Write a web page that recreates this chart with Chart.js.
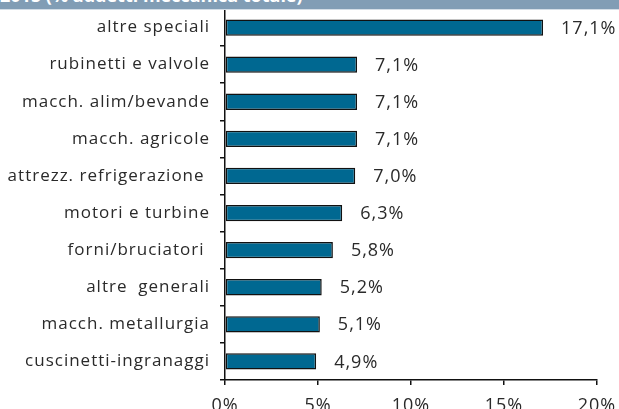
<!DOCTYPE html>
<html>
<head>
<meta charset="utf-8">
<script src="https://cdn.jsdelivr.net/npm/chart.js@4/dist/chart.umd.min.js"></script>
<style>
	html, body { margin: 0; padding: 0; background: #fff; }
	#wrap { position: relative; width: 619px; height: 409px; overflow: hidden; }
	#head {
		position: absolute; left: 0; top: 0; width: 619px; height: 9px;
		background: #819db5; overflow: hidden; border-bottom: 1px solid #d3dde6;
	}
	#head span {
		position: absolute; left: 0; top: -15px; white-space: nowrap;
		font: bold 18px "Open Sans", sans-serif; line-height: 20px; color: #fff;
	}
	canvas { position: absolute; left: 0; top: 0; }
</style>
</head>
<body>
<div id="wrap">
	<canvas id="myChart" width="619" height="409"></canvas>
	<div id="head"><span>2015 (% addetti meccanica totale)</span></div>
</div>
<script>
// settori (dall'alto in basso)
var categories = [
	"altre speciali",
	"rubinetti e valvole",
	"macch. alim/bevande",
	"macch. agricole",
	"attrezz. refrigerazione ",
	"motori e turbine",
	"forni/bruciatori ",
	"altre  generali",
	"macch. metallurgia",
	"cuscinetti-ingranaggi"
];
// % addetti meccanica totale
var values = [17.1, 7.1, 7.1, 7.1, 7.0, 6.3, 5.8, 5.2, 5.1, 4.9];
var xTicks = [0, 5, 10, 15, 20];

function fmt(v) {
	return v.toFixed(1).replace(".", ",") + "%";
}

// spaziatura larga come nel pdf
var spacing = {
	id: "spacing",
	beforeDraw: function (chart) {
		chart.ctx.letterSpacing = "1px";
	}
};

// etichette dei valori a destra delle barre
var valueLabels = {
	id: "valueLabels",
	afterDatasetsDraw: function (chart) {
		var ctx = chart.ctx;
		var meta = chart.getDatasetMeta(0);
		ctx.save();
		ctx.font = '18px "Open Sans", sans-serif';
		ctx.fillStyle = "#2a2a2a";
		ctx.textAlign = "left";
		ctx.textBaseline = "middle";
		meta.data.forEach(function (bar, i) {
			ctx.fillText(fmt(values[i]), bar.x + 18, bar.y + 1);
		});
		ctx.restore();
	}
};

var ctx = document.getElementById("myChart").getContext("2d");
var myChart = new Chart(ctx, {
	type: "bar",
	data: {
		labels: categories,
		datasets: [
			{
				data: values,
				backgroundColor: "#006891",
				borderColor: "#111",
				borderWidth: 1.5,
				borderSkipped: false,
				barPercentage: 0.44,
				categoryPercentage: 1
			}
		]
	},
	options: {
		indexAxis: "y",
		responsive: false,
		animation: false,
		layout: { padding: { top: 9, right: 22, left: 0, bottom: 0 } },
		plugins: {
			legend: { display: false },
			tooltip: { enabled: false }
		},
		scales: {
			x: {
				min: 0,
				max: 20,
				afterBuildTicks: function (scale) {
					scale.ticks = xTicks.map(function (v) { return { value: v }; });
				},
				afterFit: function (scale) {
					scale.height = 29;
					scale.paddingLeft = 0;
					scale.paddingRight = 0;
				},
				grid: { drawOnChartArea: false, tickLength: 5, color: "#111", lineWidth: 1.5 },
				border: { color: "#111", width: 1.5 },
				ticks: {
					padding: 10,
					color: "#2a2a2a",
					font: { family: "Open Sans", size: 18 },
					callback: function (v) { return v + "%"; }
				}
			},
			y: {
				afterFit: function (scale) {
					scale.width = 225;
					scale.paddingTop = 0;
					scale.paddingBottom = 0;
				},
				grid: { drawOnChartArea: false, tickLength: 5, color: "#111", lineWidth: 1.5, offset: true },
				border: { color: "#111", width: 1.5 },
				ticks: {
					padding: 10,
					color: "#2a2a2a",
					font: { family: "Open Sans", size: 17 }
				}
			}
		}
	},
	plugins: [spacing, valueLabels]
});
</script>
</body>
</html>
